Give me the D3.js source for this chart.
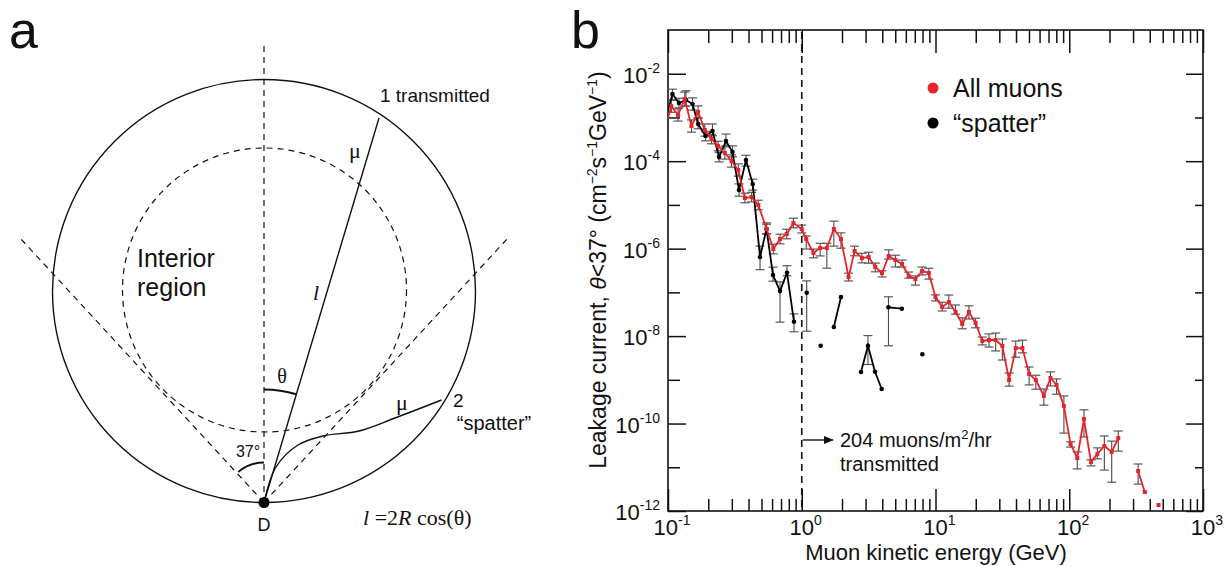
<!DOCTYPE html>
<html><head><meta charset="utf-8">
<script src="https://cdn.jsdelivr.net/npm/d3@7"></script>
<style>
body{margin:0;background:#fff}
svg{display:block}
text{font-family:"Liberation Sans",Arial,Helvetica,sans-serif;fill:#111}
.serif{font-family:"Liberation Serif","Times New Roman",serif}
</style>
</head><body>
<svg id="c" width="1226" height="566"></svg>
<script>
// ---------------- DATA (panel b) ----------------
const xMajor = [0.1, 1, 10, 100, 1000];
const xMajorExp = ["-1", "0", "1", "2", "3"];
const xMinor = [2,3,4,5,6,7,8,9,20,30,40,50,60,70,80,90,200,300,400,500,600,700,800,900,0.2,0.3,0.4,0.5,0.6,0.7,0.8,0.9];
const yLabeled = [1e-2, 1e-4, 1e-6, 1e-8, 1e-10, 1e-12];
const yLabeledExp = ["-2", "-4", "-6", "-8", "-10", "-12"];
const yOdd = [1e-3, 1e-5, 1e-7, 1e-9, 1e-11];

// All muons (red): energy (GeV), leakage current, error bars in decades (null = empty bin)
const redEnergy = [0.0944,0.1059,0.1189,0.1334,0.1497,0.1679,0.1884,0.2113,0.2372,0.2661,0.2985,0.335,0.3758,0.4217,0.4732,0.5464,0.613,0.688,0.7718,0.866,1.0,1.08,1.223,1.373,1.54,1.738,1.965,2.239,2.483,2.818,3.162,3.548,3.981,4.467,5.012,5.623,6.31,7.079,7.943,8.913,10.0,11.22,12.59,14.13,15.85,17.78,19.95,22.39,25.12,28.18,31.62,35.48,39.81,44.67,50.12,56.23,64.6,72.4,80.4,91.2,102.3,114.8,128.8,145.4,162.2,183,207.7,232.6,251,282,327.3,367.2,412,465];
const redLeak = [5.16e-4,1.82e-3,1.14e-3,2.64e-3,6.37e-4,1.33e-3,5.16e-4,3.21e-4,2.22e-4,1.54e-4,1.01e-4,6.28e-5,1.44e-5,1.51e-5,9.95e-6,2.81e-6,9.8e-7,1.66e-6,2.16e-6,3.86e-6,2.81e-6,1.66e-6,7.94e-7,1.03e-6,1.03e-6,2.81e-6,1.66e-6,2.24e-7,8.83e-7,6.09e-7,6.43e-7,3.8e-7,2.77e-7,6.78e-7,5.5e-7,4.45e-7,2.37e-7,2.02e-7,3.08e-7,2.77e-7,7.83e-8,4.62e-8,6.01e-8,3.56e-8,1.89e-8,3.56e-8,1.99e-8,7.73e-9,8.13e-9,8.13e-9,5.93e-9,9.9e-10,5.33e-9,5.33e-9,1.36e-9,9.9e-10,4.27e-10,1.1e-9,7.6e-10,2.52e-10,3.4e-11,1.63e-11,1.27e-10,1.32e-11,2.01e-11,3.06e-11,2.23e-11,4.67e-11,null,null,8.22e-12,2.72e-12,null,1.37e-12];
const redErrUp = [0.14,0.14,0.14,0.16,0.14,0.14,0.14,0.11,0.11,0.14,0.14,0.14,0.11,0.11,0.11,0.11,0.11,0.11,0.11,0.11,0.09,0.07,0.09,0.11,0.11,0.18,0.14,0.09,0.11,0.11,0.11,0.09,0.05,0.14,0.11,0.09,0.09,0.07,0.09,0.11,0.05,0.11,0.16,0.16,0.14,0.14,0.11,0.09,0.14,0.16,0.16,0.16,0.16,0.18,0.16,0.11,0.16,0.14,0.14,0.23,0.05,0.14,0.21,0.05,0.14,0.23,0.25,0.16,null,null,0.16,0,null,0];
const redErrDn = [0.14,0.14,0.14,0.16,0.14,0.14,0.14,0.11,0.11,0.14,0.14,0.14,0.11,0.11,0.11,0.11,0.11,0.11,0.11,0.11,0.09,0.23,0.11,0.18,0.46,0.39,0.21,0.09,0.11,0.11,0.14,0.11,0.09,0.07,0.16,0.07,0.05,0.14,0.09,0.14,0.09,0.09,0.14,0.05,0.11,0.16,0.11,0.09,0.16,0.25,0.32,0.14,0.21,0.11,0.25,0.21,0.21,0.18,0.21,0.62,0.07,0.25,0.41,0.09,0.11,0.55,0.69,0.30,null,null,0.30,0,null,0];

// "spatter" (black)
const blackEnergy = [0.0944,0.108,0.1208,0.1363,0.1524,0.168,0.1908,0.215,0.2407,0.2714,0.3034,0.3396,0.3828,0.430,0.4875,0.545,0.6095,0.688,0.7755,0.875,0.97,1.089,1.23,1.385,1.55,1.738,1.965,2.35,2.773,3.126,3.53,3.96,4.2,4.45,5.60,6.7,7.97];
const blackLeak = [7.85e-4,3.44e-3,2.14e-3,2.51e-3,2.03e-3,7.08e-4,3.76e-4,4.9e-4,1.24e-4,2.89e-4,1.62e-4,2.19e-5,1.06e-4,3.01e-5,6.43e-7,2.81e-6,2.49e-7,1.07e-7,2.81e-7,2.13e-8,null,9.82e-8,null,6.03e-9,null,1.61e-8,7.83e-8,null,1.51e-9,6.03e-9,1.53e-9,6.17e-10,null,4.55e-8,4.23e-8,null,3.83e-9];
const blackErrUp = [0.14,0.11,0.11,0.21,0.14,0.14,0.11,0.16,0.11,0.16,0.14,0.14,0.11,0.11,0.25,0.14,0.18,0.21,0.16,0.18,null,0.27,null,0,null,0,0,null,0,0.23,0,0,null,0.24,0,null,0];
const blackErrDn = [0.14,0.14,0.11,0.14,0.14,0.11,0.11,0.11,0.11,0.11,0.11,0.14,0.14,0.14,0.29,0.11,0.14,0.71,0.07,0.23,null,0.88,null,0,null,0,0,null,0,0.43,0,0,null,0.88,0,null,0];

const legendLabels = ["All muons", "\u201Cspatter\u201D"];
const seriesColors = ["#e8242a", "#000000"];

// ---------------- DRAW ----------------
const svg = d3.select("#c");
const RED = seriesColors[0], BLK = seriesColors[1];

// ===== Panel b =====
const L = 668, R = 1203, T = 30, B = 511;
const x = d3.scaleLog().domain([0.1, 1000]).range([L, R]);
const y = d3.scaleLog().domain([1e-12, 1e-1]).range([B, T]);

svg.append("defs").append("clipPath").attr("id","plotclip")
  .append("rect").attr("x",L).attr("y",T).attr("width",R-L).attr("height",B-T);

function styleAxis(g){ g.select(".domain").remove(); g.selectAll("line").attr("stroke","#111").attr("stroke-width",1.5); g.selectAll("text").remove(); }

svg.append("g").attr("transform",`translate(0,${B})`).call(d3.axisBottom(x).tickValues(xMajor).tickSize(-22)).call(styleAxis);
svg.append("g").attr("transform",`translate(0,${B})`).call(d3.axisBottom(x).tickValues(xMinor).tickSize(-12)).call(styleAxis);
svg.append("g").attr("transform",`translate(0,${T})`).call(d3.axisTop(x).tickValues(xMajor).tickSize(-23)).call(styleAxis);
svg.append("g").attr("transform",`translate(0,${T})`).call(d3.axisTop(x).tickValues(xMinor).tickSize(-13)).call(styleAxis);
svg.append("g").attr("transform",`translate(${L},0)`).call(d3.axisLeft(y).tickValues(yLabeled).tickSize(-18)).call(styleAxis);
svg.append("g").attr("transform",`translate(${L},0)`).call(d3.axisLeft(y).tickValues(yOdd).tickSize(-12)).call(styleAxis);
svg.append("g").attr("transform",`translate(${R},0)`).call(d3.axisRight(y).tickValues(yLabeled).tickSize(-17)).call(styleAxis);
svg.append("g").attr("transform",`translate(${R},0)`).call(d3.axisRight(y).tickValues(yOdd).tickSize(-8)).call(styleAxis);

// frame
svg.append("rect").attr("x",L).attr("y",T).attr("width",R-L).attr("height",B-T)
  .attr("fill","none").attr("stroke","#111").attr("stroke-width",1.6);

// tick labels
xMajor.forEach((v,i)=>{
  const t = svg.append("text").attr("x",x(v)+4).attr("y",B+24).attr("text-anchor","middle").attr("font-size",22);
  t.append("tspan").text("10");
  t.append("tspan").attr("dy",-10).attr("font-size",14).text(xMajorExp[i]);
});
yLabeled.forEach((v,i)=>{
  const t = svg.append("text").attr("x",L-8).attr("y",y(v)+9).attr("text-anchor","end").attr("font-size",22);
  t.append("tspan").text("10");
  t.append("tspan").attr("dy",-10).attr("font-size",14).text(yLabeledExp[i]);
});

// axis titles
svg.append("text").attr("x",936).attr("y",560).attr("text-anchor","middle").attr("font-size",22)
  .text("Muon kinetic energy (GeV)");
const yt = svg.append("text").attr("transform","translate(606,270) rotate(-90)").attr("text-anchor","middle").attr("font-size",23);
yt.append("tspan").text("Leakage current, ");
yt.append("tspan").attr("font-style","italic").text("\u03B8");
yt.append("tspan").text("<37\u00B0 (cm");
yt.append("tspan").attr("dy",-9).attr("font-size",14).text("\u22122");
yt.append("tspan").attr("dy",9).text("s");
yt.append("tspan").attr("dy",-9).attr("font-size",14).text("\u22121");
yt.append("tspan").attr("dy",9).text("GeV");
yt.append("tspan").attr("dy",-9).attr("font-size",14).text("\u22121");
yt.append("tspan").attr("dy",9).text(")");

// dashed line at 1 GeV
svg.append("line").attr("x1",x(1)).attr("x2",x(1)).attr("y1",T+2).attr("y2",B)
  .attr("stroke","#111").attr("stroke-width",1.6).attr("stroke-dasharray","7,5");

// data
const plot = svg.append("g").attr("clip-path","url(#plotclip)");
function mk(E,V,U,D){ return E.map((e,i)=>({e, v:V[i], u:U[i], d:D[i]})); }
const redData = mk(redEnergy, redLeak, redErrUp, redErrDn);
const blackData = mk(blackEnergy, blackLeak, blackErrUp, blackErrDn);

function errorBars(data){
  const g = plot.append("g").attr("stroke","#4a4a4a").attr("stroke-width",1.1);
  data.filter(d=>d.v!=null && (d.u>0 || d.d>0)).forEach(d=>{
    const cx = x(d.e), y1 = y(d.v*Math.pow(10,d.u)), y2 = y(d.v/Math.pow(10,d.d));
    g.append("line").attr("x1",cx).attr("x2",cx).attr("y1",y1).attr("y2",y2);
    g.append("line").attr("x1",cx-4.5).attr("x2",cx+4.5).attr("y1",y1).attr("y2",y1);
    g.append("line").attr("x1",cx-4.5).attr("x2",cx+4.5).attr("y1",y2).attr("y2",y2);
  });
}
errorBars(redData);
errorBars(blackData);

const line = d3.line().defined(d=>d.v!=null).x(d=>x(d.e)).y(d=>y(d.v));
plot.append("path").datum(blackData).attr("d",line).attr("fill","none").attr("stroke",BLK).attr("stroke-width",1.8);
plot.selectAll(".bdot").data(blackData.filter(d=>d.v!=null)).join("circle")
  .attr("cx",d=>x(d.e)).attr("cy",d=>y(d.v)).attr("r",2.3).attr("fill",BLK);
plot.append("path").datum(redData).attr("d",line).attr("fill","none").attr("stroke",RED).attr("stroke-width",1.8);
plot.selectAll(".rsq").data(redData.filter(d=>d.v!=null)).join("rect")
  .attr("x",d=>x(d.e)-2).attr("y",d=>y(d.v)-2).attr("width",4).attr("height",4).attr("fill",RED);

// legend
legendLabels.forEach((lab,i)=>{
  svg.append("circle").attr("cx",933).attr("cy",88+i*35).attr("r",5.5).attr("fill",seriesColors[i]);
  svg.append("text").attr("x",953).attr("y",97+i*35).attr("font-size",25).text(lab);
});

// annotation
svg.append("defs").append("marker").attr("id","arr").attr("viewBox","0 0 10 10").attr("refX",9).attr("refY",5)
  .attr("markerWidth",7).attr("markerHeight",7).attr("orient","auto")
  .append("path").attr("d","M0,1 L10,5 L0,9 Z").attr("fill","#111");
svg.append("line").attr("x1",x(1)+1).attr("x2",x(1)+31).attr("y1",440).attr("y2",440)
  .attr("stroke","#111").attr("stroke-width",1.4).attr("marker-end","url(#arr)");
const an = svg.append("text").attr("x",840).attr("y",447).attr("font-size",20);
an.append("tspan").text("204 muons/m");
an.append("tspan").attr("dy",-8).attr("font-size",13).text("2");
an.append("tspan").attr("dy",8).text("/hr");
svg.append("text").attr("x",840).attr("y",471).attr("font-size",20).text("transmitted");

// panel letters
svg.append("text").attr("x",9).attr("y",48).attr("font-size",52).text("a");
svg.append("text").attr("x",571).attr("y",48).attr("font-size",52).text("b");

// ===== Panel a (schematic) =====
const Dx = 264, Dy = 502.5, Rout = 211.5;
const ga = svg.append("g").attr("fill","none").attr("stroke","#111");
ga.append("circle").attr("cx",Dx).attr("cy",Dy-Rout).attr("r",Rout).attr("stroke-width",1.4);
ga.append("circle").attr("cx",Dx+0.5).attr("cy",290).attr("r",142).attr("stroke-width",1.2).attr("stroke-dasharray","6,5");
ga.append("line").attr("x1",Dx).attr("x2",Dx).attr("y1",46).attr("y2",Dy).attr("stroke-width",1.2).attr("stroke-dasharray","6,5");
ga.append("line").attr("x1",Dx).attr("y1",Dy).attr("x2",20).attr("y2",238).attr("stroke-width",1.2).attr("stroke-dasharray","6,5");
ga.append("line").attr("x1",Dx).attr("y1",Dy).attr("x2",508).attr("y2",238).attr("stroke-width",1.2).attr("stroke-dasharray","6,5");
ga.append("line").attr("x1",Dx).attr("y1",Dy).attr("x2",379).attr("y2",118).attr("stroke-width",1.4);
const spatterPts = [[Dx,Dy],[276,467],[298,445],[323,436],[359,431],[395,418],[441.5,400]];
ga.append("path").attr("d",d3.line().curve(d3.curveCatmullRom)(spatterPts)).attr("stroke-width",1.4);
const arcG = d3.arc();
ga.append("path").attr("transform",`translate(${Dx},${Dy})`)
  .attr("d",arcG({innerRadius:113,outerRadius:113,startAngle:0,endAngle:0.29})).attr("stroke-width",2.2);
ga.append("path").attr("transform",`translate(${Dx},${Dy})`)
  .attr("d",arcG({innerRadius:40,outerRadius:40,startAngle:-0.70,endAngle:0})).attr("stroke-width",2);
svg.append("circle").attr("cx",Dx).attr("cy",Dy).attr("r",5.5).attr("fill","#000");

svg.append("text").attr("x",380).attr("y",102).attr("font-size",19).text("1 transmitted");
svg.append("text").attr("class","serif").attr("x",355).attr("y",158).attr("text-anchor","middle").attr("font-size",22).text("\u03BC");
svg.append("text").attr("class","serif").attr("x",316).attr("y",300).attr("text-anchor","middle").attr("font-size",22).attr("font-style","italic").text("l");
svg.append("text").attr("class","serif").attr("x",282).attr("y",383).attr("text-anchor","middle").attr("font-size",20).text("\u03B8");
svg.append("text").attr("x",248).attr("y",457).attr("text-anchor","middle").attr("font-size",16).text("37\u00B0");
svg.append("text").attr("x",137).attr("y",267).attr("font-size",25).text("Interior");
svg.append("text").attr("x",137).attr("y",296).attr("font-size",25).text("region");
svg.append("text").attr("class","serif").attr("x",402).attr("y",410).attr("text-anchor","middle").attr("font-size",22).text("\u03BC");
svg.append("text").attr("x",453).attr("y",407).attr("font-size",19).text("2");
svg.append("text").attr("x",494).attr("y",430).attr("text-anchor","middle").attr("font-size",20).text("\u201Cspatter\u201D");
svg.append("text").attr("x",Dx).attr("y",531).attr("text-anchor","middle").attr("font-size",18).text("D");
const fm = svg.append("text").attr("class","serif").attr("x",363).attr("y",525).attr("font-size",22);
fm.append("tspan").attr("font-style","italic").text("l");
fm.append("tspan").text(" =2");
fm.append("tspan").attr("font-style","italic").text("R");
fm.append("tspan").text(" cos(\u03B8)");
</script>
</body></html>
